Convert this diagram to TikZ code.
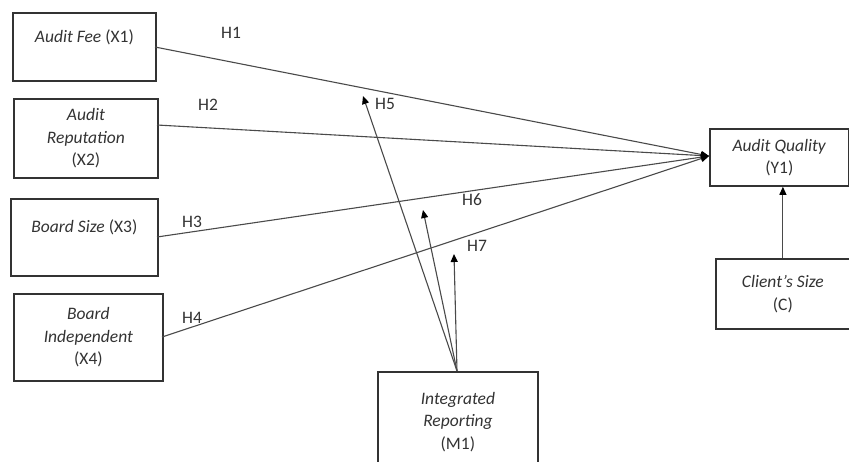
\documentclass[tikz,border=0pt]{standalone}
\usepackage{fontspec}
\setmainfont{Carlito}
\usetikzlibrary{arrows.meta}
\definecolor{boxline}{HTML}{333333}
\definecolor{conn}{HTML}{4A4A4A}
\definecolor{txt}{HTML}{333333}
\begin{document}
\begin{tikzpicture}[x=1pt,y=-1pt,
  vbox/.style={draw=boxline,line width=1.8pt,inner sep=0pt,anchor=north west,align=center,text=txt,
    font=\fontsize{17.5}{22.5}\selectfont},
  hlab/.style={text=txt,font=\fontsize{17.5}{21}\selectfont,inner sep=0pt},
  conn/.style={draw=conn,line width=1.1pt,-{Triangle[width=7pt,length=8pt,color=black]}}]
\useasboundingbox (0,0) rectangle (849,461);
\clip (0,0) rectangle (849,461);
% boxes
\node[vbox,minimum width=143pt,minimum height=68pt] (x1) at (12,12) {\textit{Audit Fee} (X1)\\\mbox{}};
\node[vbox,minimum width=144pt,minimum height=79pt] (x2) at (13,98) {\textit{Audit}\\\textit{Reputation}\\(X2)};
\node[vbox,minimum width=147pt,minimum height=77pt] (x3) at (10,198) {\textit{Board Size} (X3)\\\mbox{}};
\node[vbox,minimum width=149pt,minimum height=87pt] (x4) at (13,293) {\textit{Board}\\\textit{Independent}\\(X4)};
\node[vbox,minimum width=139pt,minimum height=57pt] (y1) at (709,128) {\textit{Audit Quality}\\(Y1)};
\node[vbox,minimum width=134pt,minimum height=70pt] (c) at (715,258) {\textit{Client's Size}\\(C)};
\node[vbox,minimum width=160pt,minimum height=100pt,anchor=north west] (m1) at (377,371) {\textit{Integrated}\\\textit{Reporting}\\(M1)};
% coordinates
\coordinate (t) at (709,156);
\coordinate (m) at (457,371);
\coordinate (h5e) at (363,96);
\coordinate (h6e) at (423,210);
\coordinate (h7e) at (454,254);
% connectors
\draw[conn] (155,47) -- (t);
\draw[conn] (157,125) -- (t);
\draw[conn] (157,237) -- (t);
\draw[conn] (162,337) -- (t);
\draw[conn] (c.north) -- (c.north |- y1.south);
\draw[conn] (m) -- (h5e);
\draw[conn] (m) -- (h6e);
\draw[conn] (m) -- (h7e);
% labels
\node[hlab] (l1) at (231,33) {H1};
\node[hlab] (l2) at (208,105) {H2};
\node[hlab] (l3) at (192,222) {H3};
\node[hlab] (l4) at (192,318) {H4};
\node[hlab] (l5) at (385,104) {H5};
\node[hlab] (l6) at (472,200) {H6};
\node[hlab] (l7) at (477,246) {H7};
\end{tikzpicture}
\end{document}
